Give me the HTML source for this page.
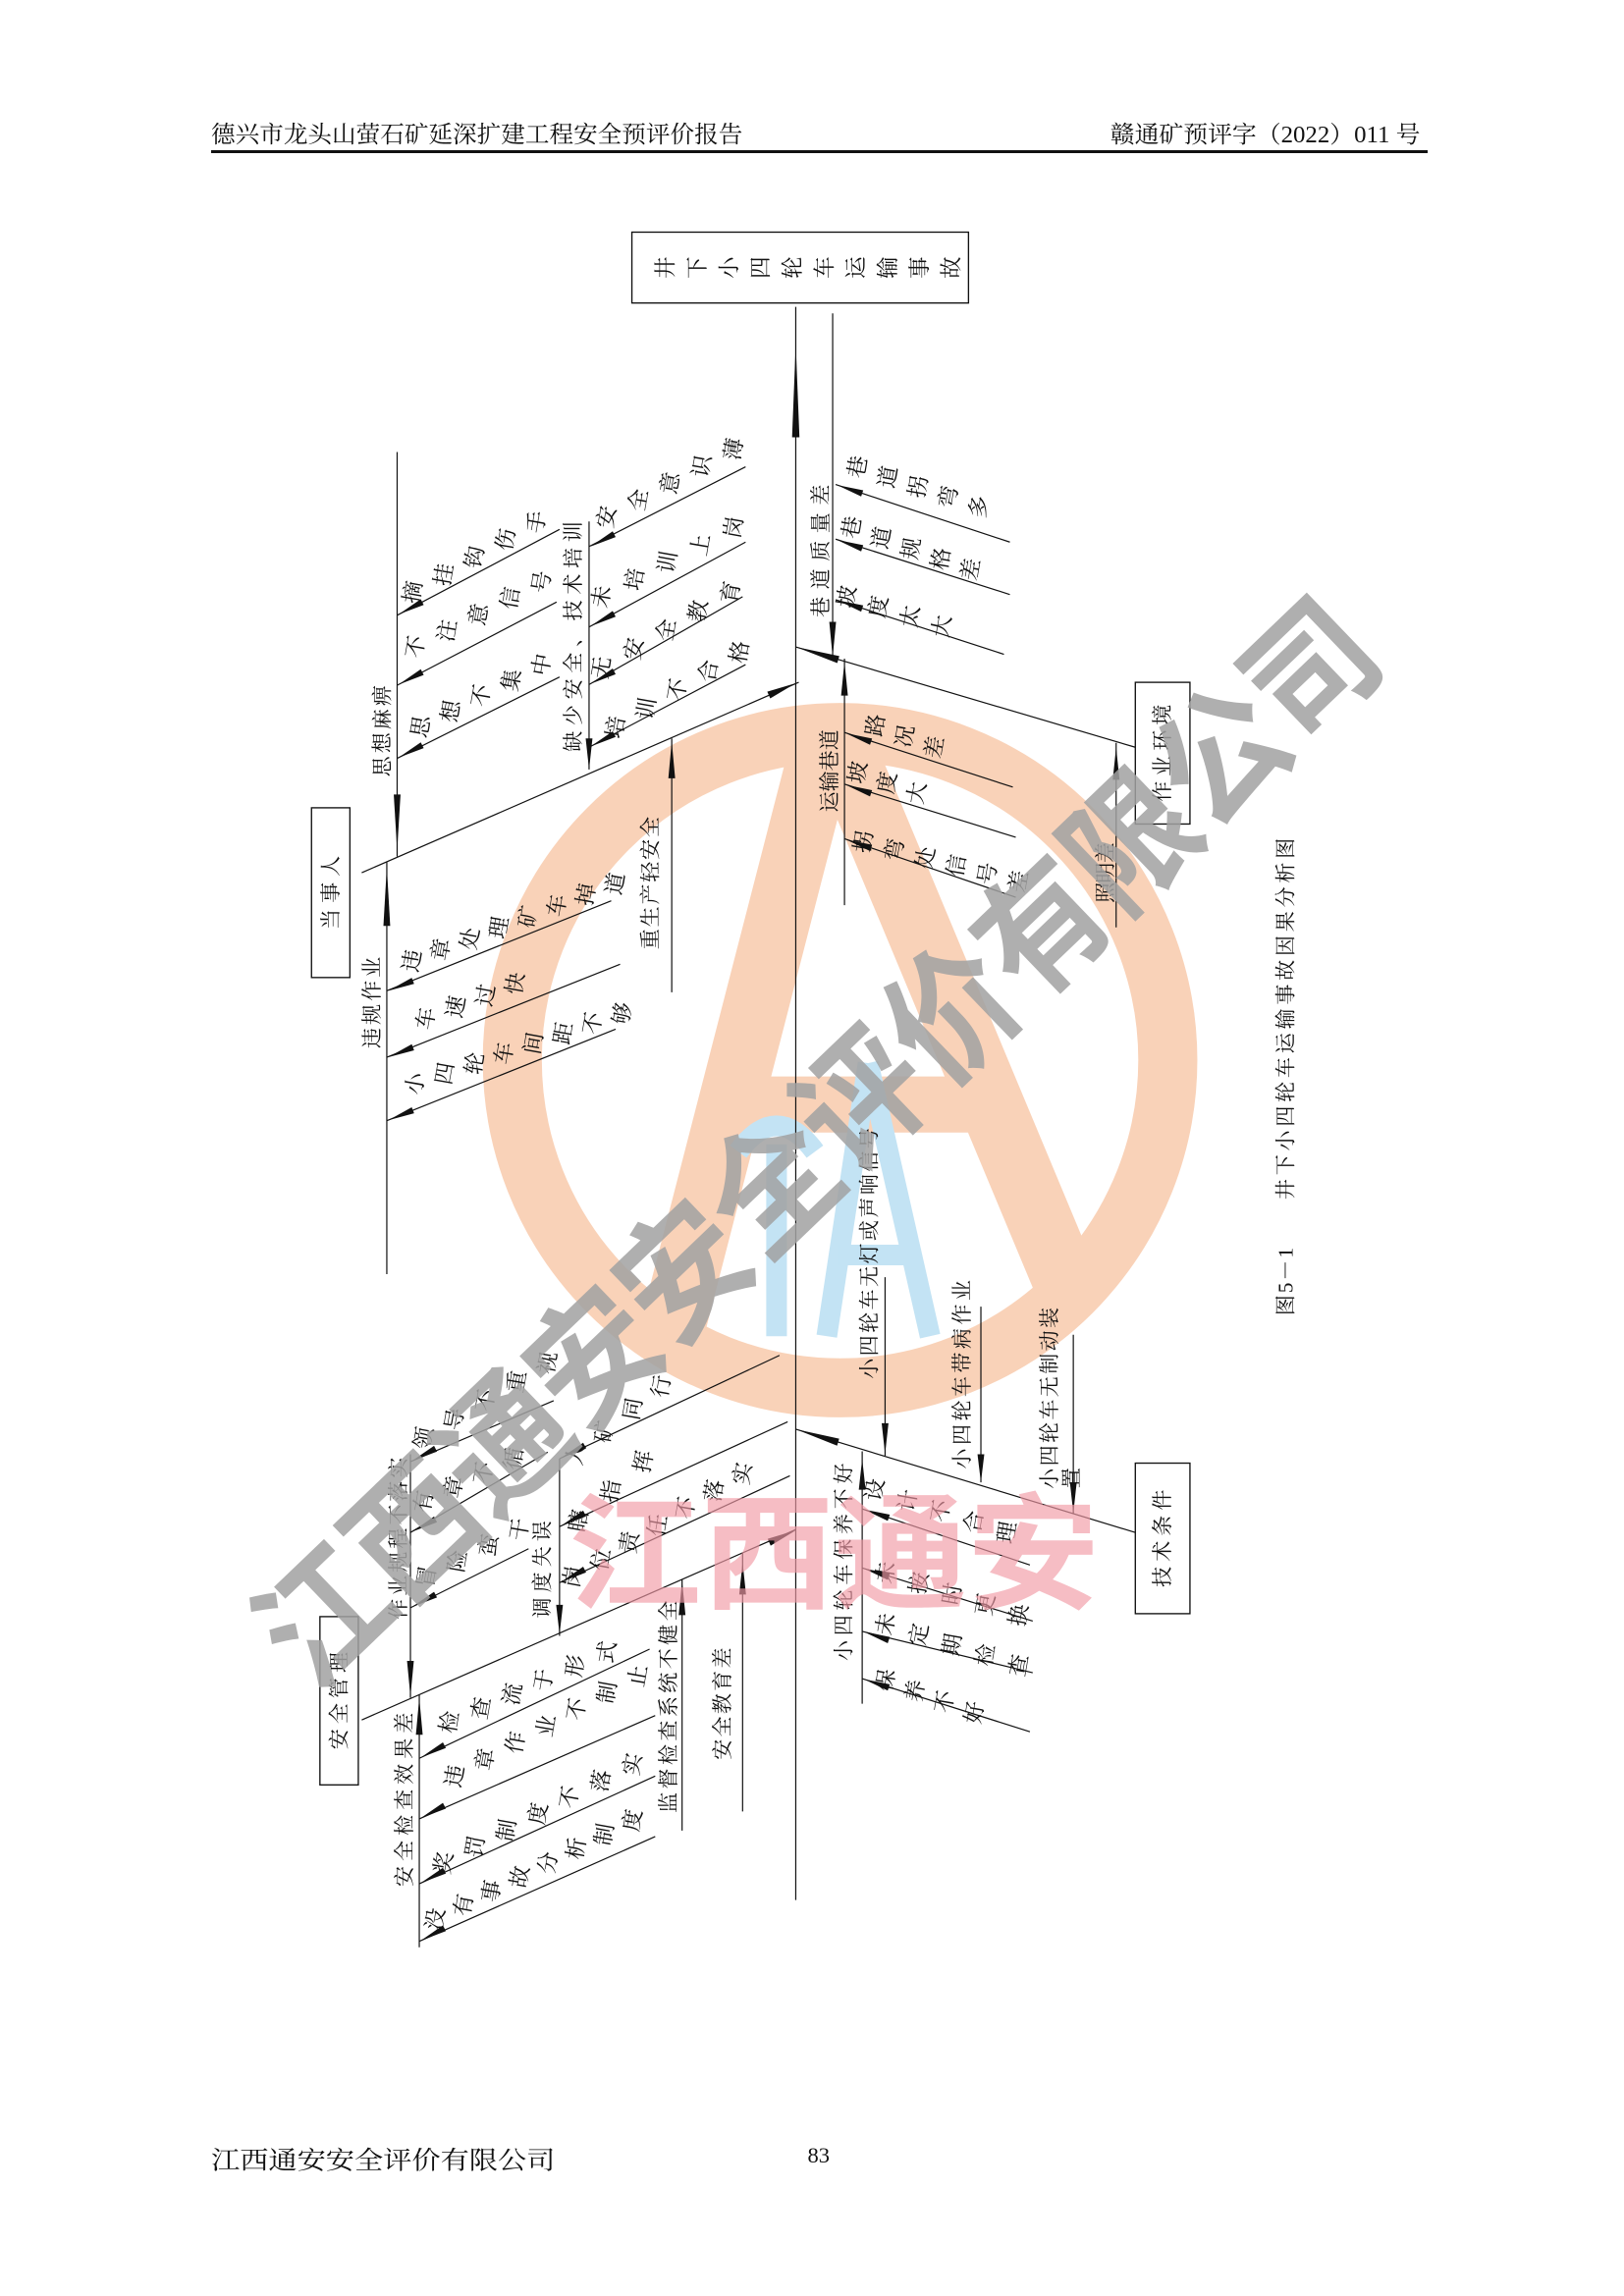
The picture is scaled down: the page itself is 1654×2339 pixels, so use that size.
<!DOCTYPE html>
<html><head><meta charset="utf-8"><style>
html,body{margin:0;padding:0;background:#fff;}
svg{display:block;}
.c text{font-family:"Liberation Serif","Noto Serif CJK SC",serif;font-size:15px;text-anchor:middle;dominant-baseline:central;fill:#111;}
.v{font-family:"Liberation Serif","Noto Serif CJK SC",serif;font-size:14px;text-anchor:middle;dominant-baseline:central;fill:#111;}
.ln line{stroke:#111;stroke-width:0.8;}
.ar polygon{fill:#111;}
</style></head><body>
<svg width="1654" height="2339" viewBox="0 0 1100 1555" xmlns="http://www.w3.org/2000/svg">
<rect width="1100" height="1555" fill="#fff"/>
<text x="143" y="96" font-family="Liberation Serif,Noto Serif CJK SC,serif" font-size="16" textLength="360" lengthAdjust="spacingAndGlyphs" fill="#111">德兴市龙头山萤石矿延深扩建工程安全预评价报告</text>
<text x="752" y="96" font-family="Liberation Serif,Noto Serif CJK SC,serif" font-size="16" textLength="210" lengthAdjust="spacingAndGlyphs" fill="#111">赣通矿预评字（2022）011 号</text>
<line x1="143" y1="102.5" x2="967" y2="102.5" stroke="#111" stroke-width="2"/>
<text x="143" y="1469" font-family="Liberation Serif,Noto Serif CJK SC,serif" font-size="17" textLength="233" lengthAdjust="spacingAndGlyphs" fill="#111">江西通安安全评价有限公司</text>
<text x="547" y="1465" font-family="Liberation Serif,serif" font-size="15" fill="#111">83</text>

<defs><clipPath id="cc"><circle cx="569" cy="718" r="242"/></clipPath></defs>
<g>
<circle cx="569" cy="718" r="222" fill="none" stroke="#f9d2b8" stroke-width="40"/>
<g clip-path="url(#cc)" stroke="#f9d2b8" stroke-width="44" stroke-linecap="butt">
<line x1="560" y1="495" x2="440" y2="960"/>
<line x1="566" y1="495" x2="735" y2="900"/>
<line x1="480" y1="748" x2="660" y2="748" stroke-width="38"/>
</g>
<polygon points="548,478 580,478 566,500 552,500" fill="#f9d2b8"/>
</g>
<g stroke="#c3e3f4" stroke-width="14" fill="none">
<line x1="526" y1="775" x2="526" y2="905"/>
<path d="M500 780 Q526 745 552 780"/>
<line x1="588" y1="720" x2="560" y2="905"/>
<line x1="588" y1="720" x2="630" y2="905"/>
<line x1="568" y1="850" x2="620" y2="850"/>
</g>

<g fill="none" stroke="#111" stroke-width="0.9">
<rect x="428" y="157" width="228" height="48"/>
<rect x="211" y="547" width="26" height="115"/>
<rect x="769" y="462" width="37" height="96"/>
<rect x="769" y="991" width="37" height="102"/>
<rect x="216.7" y="1095" width="26" height="114"/>
</g>
<g class="c" font-size="16">
<text transform="translate(451 181)rotate(-90)">井</text>
<text transform="translate(472.5 181)rotate(-90)">下</text>
<text transform="translate(494 181)rotate(-90)">小</text>
<text transform="translate(515.5 181)rotate(-90)">四</text>
<text transform="translate(537 181)rotate(-90)">轮</text>
<text transform="translate(558.5 181)rotate(-90)">车</text>
<text transform="translate(580 181)rotate(-90)">运</text>
<text transform="translate(601.5 181)rotate(-90)">输</text>
<text transform="translate(623 181)rotate(-90)">事</text>
<text transform="translate(644.5 181)rotate(-90)">故</text>
</g>
<text class="v" transform="translate(224 604.5)rotate(-90)" textLength="50">当事人</text>
<text class="v" transform="translate(787.5 510)rotate(-90)" textLength="66">作业环境</text>
<text class="v" transform="translate(787.5 1042)rotate(-90)" textLength="66">技术条件</text>
<text class="v" transform="translate(229.7 1152)rotate(-90)" textLength="66">安全管理</text>

<text class="v" transform="translate(259 495)rotate(-90)" textLength="62">思想麻痹</text>
<text class="v" transform="translate(388.4 431)rotate(-90)" textLength="156">缺少安全、技术培训</text>
<text class="v" transform="translate(556 373)rotate(-90)" textLength="90">巷道质量差</text>
<text class="v" transform="translate(562 522)rotate(-90)" textLength="56">运输巷道</text>
<text class="v" transform="translate(749 591)rotate(-90)" textLength="41">照明差</text>
<text class="v" transform="translate(252.2 679)rotate(-90)" textLength="62">违规作业</text>
<text class="v" transform="translate(440.6 598)rotate(-90)" textLength="90">重生产轻安全</text>
<text class="v" transform="translate(367.5 1063)rotate(-90)" textLength="66">调度失误</text>
<text class="v" transform="translate(270 1042)rotate(-90)" textLength="110">作业规程不落实</text>
<text class="v" transform="translate(274 1219)rotate(-90)" textLength="118">安全检查效果差</text>
<text class="v" transform="translate(453 1156)rotate(-90)" textLength="144">监督检查系统不健全</text>
<text class="v" transform="translate(489.6 1154)rotate(-90)" textLength="76">安全教育差</text>
<text class="v" transform="translate(571.7 1058)rotate(-90)" textLength="134">小四轮车保养不好</text>
<text class="v" transform="translate(589 849)rotate(-90)" textLength="170">小四轮车无灯或声响信号</text>
<text class="v" transform="translate(651.8 931)rotate(-90)" textLength="128">小四轮车带病作业</text>
<text class="v" transform="translate(711 947)rotate(-90)" textLength="123">小四轮车无制动装</text>
<text class="v" transform="translate(726 1001)rotate(-90)">置</text>
<text class="v" transform="translate(871 868)rotate(-90)" font-size="14" textLength="46">图5－1</text>
<text class="v" transform="translate(871 690)rotate(-90)" font-size="15" textLength="245">井下小四轮车运输事故因果分析图</text>

<g class="ln">
<line x1="539" y1="207.6" x2="539" y2="1287"/>
<line x1="564" y1="212" x2="564" y2="445"/>
<line x1="269" y1="306" x2="269" y2="580"/>
<line x1="399" y1="353" x2="399" y2="521"/>
<line x1="455" y1="500" x2="455" y2="672"/>
<line x1="262" y1="584" x2="262" y2="863"/>
<line x1="572" y1="446" x2="572" y2="613"/>
<line x1="756" y1="503" x2="756" y2="628"/>
<line x1="599.5" y1="865" x2="599.5" y2="986"/>
<line x1="664.4" y1="885" x2="664.4" y2="1004"/>
<line x1="727" y1="904" x2="727" y2="1025"/>
<line x1="584" y1="983" x2="584" y2="1154"/>
<line x1="379" y1="988" x2="379" y2="1108"/>
<line x1="278" y1="985" x2="278" y2="1150"/>
<line x1="284" y1="1148" x2="284" y2="1319"/>
<line x1="462" y1="1070" x2="462" y2="1240"/>
<line x1="503" y1="1052" x2="503" y2="1227"/>
<line x1="245" y1="591" x2="541" y2="462"/>
<line x1="539" y1="438" x2="769" y2="506"/>
<line x1="539" y1="968" x2="769" y2="1038"/>
<line x1="245" y1="1165" x2="539" y2="1036"/>
<line x1="269" y1="416.6" x2="379" y2="358.4"/>
<line x1="269" y1="464" x2="377" y2="407.6"/>
<line x1="269" y1="513.5" x2="379" y2="458.4"/>
<line x1="399" y1="370" x2="505" y2="316"/>
<line x1="399" y1="424.5" x2="505" y2="367"/>
<line x1="399" y1="463.5" x2="503" y2="404"/>
<line x1="399" y1="506" x2="505" y2="450"/>
<line x1="262" y1="671" x2="414" y2="610"/>
<line x1="262" y1="716" x2="420" y2="653"/>
<line x1="262" y1="759" x2="417" y2="697"/>
<line x1="566" y1="328" x2="684" y2="367"/>
<line x1="566" y1="365" x2="684" y2="402.5"/>
<line x1="566" y1="406" x2="680" y2="443"/>
<line x1="572" y1="496" x2="686" y2="533"/>
<line x1="572" y1="531" x2="688" y2="567"/>
<line x1="572" y1="568" x2="688" y2="607.6"/>
<line x1="584" y1="1022" x2="697.6" y2="1060"/>
<line x1="584" y1="1062" x2="699.5" y2="1098"/>
<line x1="584" y1="1105" x2="699.5" y2="1133"/>
<line x1="584" y1="1137" x2="697.6" y2="1173"/>
<line x1="278" y1="990" x2="375" y2="948.7"/>
<line x1="278" y1="1038" x2="371" y2="983.6"/>
<line x1="278" y1="1089" x2="358" y2="1049"/>
<line x1="379" y1="988" x2="528" y2="918"/>
<line x1="379" y1="1034" x2="533.5" y2="963"/>
<line x1="379" y1="1072" x2="535" y2="999.6"/>
<line x1="284" y1="1191" x2="440" y2="1117"/>
<line x1="284" y1="1232" x2="443.8" y2="1162"/>
<line x1="284" y1="1276" x2="443.8" y2="1203"/>
<line x1="284" y1="1315" x2="443.8" y2="1244"/>
</g>

<g class="ar">
<polygon points="539,233 541.5,296 536.5,296"/>
<polygon points="564,445 566.3,421 561.7,421"/>
<polygon points="269,576 271.3,538 266.7,538"/>
<polygon points="399,521 401.3,500 396.7,500"/>
<polygon points="455,502 457.3,527 452.7,527"/>
<polygon points="262,587 264.3,627 259.7,627"/>
<polygon points="572,448 574.3,471 569.7,471"/>
<polygon points="756,506 758.3,528 753.7,528"/>
<polygon points="599.5,985 601.8,964 597.2,964"/>
<polygon points="664.4,1004 666.7,985 662.1,985"/>
<polygon points="727,1025 729.3,1004 724.7,1004"/>
<polygon points="584,988 586.3,1009 581.7,1009"/>
<polygon points="379,1107 381.3,1087 376.7,1087"/>
<polygon points="278,1149 280.3,1125 275.7,1125"/>
<polygon points="284,1150 286.3,1175 281.7,1175"/>
<polygon points="462,1071 464.3,1094 459.7,1094"/>
<polygon points="503,1058 505.3,1080 500.7,1080"/>
<polygon points="539,462.6 521.7,472.9 519.7,468.3"/>
<polygon points="539,438 567.1,449 568.5,444.2"/>
<polygon points="539,968 567,979.2 568.4,974.4"/>
<polygon points="539,1036.5 522,1046.9 520,1042.3"/>
<polygon points="270,416 287,409.55 285,405.65"/>
<polygon points="270,463.5 287,457.05 285,453.15"/>
<polygon points="270,513 287,506.55 285,502.65"/>
<polygon points="400,370 417,363.55 415,359.65"/>
<polygon points="400,424 417,417.55 415,413.65"/>
<polygon points="400,463 417,456.55 415,452.65"/>
<polygon points="400,505.5 417,499.05 415,495.15"/>
<polygon points="263,671 280.5,666.3 278.9,662.2"/>
<polygon points="263,716 280.5,711.3 278.9,707.2"/>
<polygon points="263,758.7 280.5,754 278.9,749.9"/>
<polygon points="567,328.3 583.3,336.1 584.7,331.9"/>
<polygon points="567,365.5 583.3,373.3 584.7,369.1"/>
<polygon points="567,406.3 583.3,414.1 584.7,409.9"/>
<polygon points="573,496.5 589.3,504.3 590.7,500.1"/>
<polygon points="573,531.5 589.3,539.3 590.7,535.1"/>
<polygon points="573,568.5 589.3,576.3 590.7,572.1"/>
<polygon points="585,1022.3 601.3,1030.1 602.7,1025.9"/>
<polygon points="585,1062.3 601.3,1070.1 602.7,1065.9"/>
<polygon points="585,1105.2 601.3,1113 602.7,1108.8"/>
<polygon points="585,1137.3 601.3,1145.1 602.7,1140.9"/>
<polygon points="279,989.6 296,983.15 294,979.25"/>
<polygon points="279,1037.5 296,1031.05 294,1027.15"/>
<polygon points="279,1088.5 296,1082.05 294,1078.15"/>
<polygon points="380,987.5 397,981.05 395,977.15"/>
<polygon points="380,1033.5 397,1027.05 395,1023.15"/>
<polygon points="380,1071.5 397,1065.05 395,1061.15"/>
<polygon points="285,1190.5 302,1184.05 300,1180.15"/>
<polygon points="285,1231.5 302,1225.05 300,1221.15"/>
<polygon points="285,1275.5 302,1269.05 300,1265.15"/>
<polygon points="285,1314.5 302,1308.05 300,1304.15"/>
</g>

<g class="c">
<text transform="translate(279.7 401)rotate(-80)">摘</text><text transform="translate(300.7 389.1)rotate(-80)">挂</text><text transform="translate(321.6 377.2)rotate(-80)">钩</text><text transform="translate(342.6 365.3)rotate(-80)">伤</text><text transform="translate(363.6 353.4)rotate(-80)">手</text>
<text transform="translate(281.6 438)rotate(-80)">不</text><text transform="translate(303 427)rotate(-80)">注</text><text transform="translate(324.3 416)rotate(-80)">意</text><text transform="translate(345.7 405)rotate(-80)">信</text><text transform="translate(367 394)rotate(-80)">号</text>
<text transform="translate(285 492)rotate(-80)">思</text><text transform="translate(305.5 481.5)rotate(-80)">想</text><text transform="translate(326 471)rotate(-80)">不</text><text transform="translate(346.5 460.5)rotate(-80)">集</text><text transform="translate(367 450)rotate(-80)">中</text>
<text transform="translate(411 350)rotate(-80)">安</text><text transform="translate(432.5 338.5)rotate(-80)">全</text><text transform="translate(454 327)rotate(-80)">意</text><text transform="translate(475.5 315.5)rotate(-80)">识</text><text transform="translate(497 304)rotate(-80)">薄</text>
<text transform="translate(407.5 404)rotate(-80)">未</text><text transform="translate(429.9 392.3)rotate(-80)">培</text><text transform="translate(452.3 380.5)rotate(-80)">训</text><text transform="translate(474.6 368.8)rotate(-80)">上</text><text transform="translate(497 357)rotate(-80)">岗</text>
<text transform="translate(407.5 452)rotate(-80)">无</text><text transform="translate(429.4 439.3)rotate(-80)">安</text><text transform="translate(451.3 426.5)rotate(-80)">全</text><text transform="translate(473.1 413.8)rotate(-80)">教</text><text transform="translate(495 401)rotate(-80)">育</text>
<text transform="translate(417 492.5)rotate(-80)">培</text><text transform="translate(438 479.8)rotate(-80)">训</text><text transform="translate(459 467)rotate(-80)">不</text><text transform="translate(480 454.3)rotate(-80)">合</text><text transform="translate(501 441.5)rotate(-80)">格</text>
<text transform="translate(581 316)rotate(-80)">巷</text><text transform="translate(601.5 322.8)rotate(-80)">道</text><text transform="translate(622 329.5)rotate(-80)">拐</text><text transform="translate(642.5 336.3)rotate(-80)">弯</text><text transform="translate(663 343)rotate(-80)">多</text>
<text transform="translate(577 357)rotate(-80)">巷</text><text transform="translate(597.1 364.1)rotate(-80)">道</text><text transform="translate(617.3 371.3)rotate(-80)">规</text><text transform="translate(637.4 378.4)rotate(-80)">格</text><text transform="translate(657.5 385.5)rotate(-80)">差</text>
<text transform="translate(573.6 404)rotate(-80)">坡</text><text transform="translate(595.1 410.7)rotate(-80)">度</text><text transform="translate(616.6 417.3)rotate(-80)">太</text><text transform="translate(638 424)rotate(-80)">大</text>
<text transform="translate(593 491)rotate(-80)">路</text><text transform="translate(613 498.5)rotate(-80)">况</text><text transform="translate(633 506)rotate(-80)">差</text>
<text transform="translate(581 523)rotate(-80)">坡</text><text transform="translate(601 530)rotate(-80)">度</text><text transform="translate(621 537)rotate(-80)">大</text>
<text transform="translate(585 570)rotate(-80)">拐</text><text transform="translate(606 575.4)rotate(-80)">弯</text><text transform="translate(627 580.8)rotate(-80)">处</text><text transform="translate(648 586.2)rotate(-80)">信</text><text transform="translate(669 591.6)rotate(-80)">号</text><text transform="translate(690 597)rotate(-80)">差</text>
<text transform="translate(279 650.6)rotate(-80)">违</text><text transform="translate(298.7 643.1)rotate(-80)">章</text><text transform="translate(318.4 635.7)rotate(-80)">处</text><text transform="translate(338.1 628.2)rotate(-80)">理</text><text transform="translate(357.7 620.7)rotate(-80)">矿</text><text transform="translate(377.4 613.3)rotate(-80)">车</text><text transform="translate(397.1 605.8)rotate(-80)">掉</text><text transform="translate(416.8 598.4)rotate(-80)">道</text>
<text transform="translate(288.6 689.8)rotate(-80)">车</text><text transform="translate(308.8 681.9)rotate(-80)">速</text><text transform="translate(329 674)rotate(-80)">过</text><text transform="translate(349.1 666)rotate(-80)">快</text>
<text transform="translate(281.4 733.8)rotate(-80)">小</text><text transform="translate(301.4 727)rotate(-80)">四</text><text transform="translate(321.5 720.2)rotate(-80)">轮</text><text transform="translate(341.5 713.4)rotate(-80)">车</text><text transform="translate(361.5 706.6)rotate(-80)">间</text><text transform="translate(381.5 699.8)rotate(-80)">距</text><text transform="translate(401.6 693)rotate(-80)">不</text><text transform="translate(421.6 686.3)rotate(-80)">够</text>
<text transform="translate(287 974)rotate(-80)">领</text><text transform="translate(308 961.3)rotate(-80)">导</text><text transform="translate(329 948.5)rotate(-80)">不</text><text transform="translate(350 935.8)rotate(-80)">重</text><text transform="translate(371 923)rotate(-80)">视</text>
<text transform="translate(287 1017)rotate(-80)">有</text><text transform="translate(307.3 1007.3)rotate(-80)">章</text><text transform="translate(327.7 997.7)rotate(-80)">不</text><text transform="translate(348 988)rotate(-80)">循</text>
<text transform="translate(289 1068)rotate(-80)">冒</text><text transform="translate(310 1057.3)rotate(-80)">险</text><text transform="translate(331 1046.7)rotate(-80)">蛮</text><text transform="translate(352 1036)rotate(-80)">干</text>
<text transform="translate(390 985)rotate(-80)">人</text><text transform="translate(409.3 969.7)rotate(-80)">矿</text><text transform="translate(428.7 954.3)rotate(-80)">同</text><text transform="translate(448 939)rotate(-80)">行</text>
<text transform="translate(392 1030)rotate(-80)">瞎</text><text transform="translate(414 1010)rotate(-80)">指</text><text transform="translate(436 990)rotate(-80)">挥</text>
<text transform="translate(388 1068)rotate(-80)">岗</text><text transform="translate(407.2 1056.3)rotate(-80)">位</text><text transform="translate(426.3 1044.7)rotate(-80)">责</text><text transform="translate(445.5 1033)rotate(-80)">任</text><text transform="translate(464.7 1021.3)rotate(-80)">不</text><text transform="translate(483.8 1009.7)rotate(-80)">落</text><text transform="translate(503 998)rotate(-80)">实</text>
<text transform="translate(304.5 1166.5)rotate(-80)">检</text><text transform="translate(325.8 1157)rotate(-80)">查</text><text transform="translate(347.1 1147.5)rotate(-80)">流</text><text transform="translate(368.4 1138)rotate(-80)">于</text><text transform="translate(389.7 1128.5)rotate(-80)">形</text><text transform="translate(411 1119)rotate(-80)">式</text>
<text transform="translate(308 1203)rotate(-80)">违</text><text transform="translate(328.7 1191.7)rotate(-80)">章</text><text transform="translate(349.3 1180.3)rotate(-80)">作</text><text transform="translate(370 1169)rotate(-80)">业</text><text transform="translate(390.7 1157.7)rotate(-80)">不</text><text transform="translate(411.3 1146.3)rotate(-80)">制</text><text transform="translate(432 1135)rotate(-80)">止</text>
<text transform="translate(300.6 1262)rotate(-80)">奖</text><text transform="translate(321.9 1250.8)rotate(-80)">罚</text><text transform="translate(343.2 1239.7)rotate(-80)">制</text><text transform="translate(364.6 1228.5)rotate(-80)">度</text><text transform="translate(385.9 1217.3)rotate(-80)">不</text><text transform="translate(407.2 1206.2)rotate(-80)">落</text><text transform="translate(428.5 1195)rotate(-80)">实</text>
<text transform="translate(295 1300)rotate(-80)">没</text><text transform="translate(314.1 1290.4)rotate(-80)">有</text><text transform="translate(333.1 1280.9)rotate(-80)">事</text><text transform="translate(352.2 1271.3)rotate(-80)">故</text><text transform="translate(371.3 1261.7)rotate(-80)">分</text><text transform="translate(390.4 1252.1)rotate(-80)">析</text><text transform="translate(409.4 1242.6)rotate(-80)">制</text><text transform="translate(428.5 1233)rotate(-80)">度</text>
<text transform="translate(592.6 1009)rotate(-80)">设</text><text transform="translate(615 1016.3)rotate(-80)">计</text><text transform="translate(637.3 1023.5)rotate(-80)">不</text><text transform="translate(659.7 1030.8)rotate(-80)">合</text><text transform="translate(682 1038)rotate(-80)">理</text>
<text transform="translate(600 1065)rotate(-80)">未</text><text transform="translate(622.5 1072.3)rotate(-80)">按</text><text transform="translate(645 1079.5)rotate(-80)">时</text><text transform="translate(667.5 1086.8)rotate(-80)">更</text><text transform="translate(690 1094)rotate(-80)">换</text>
<text transform="translate(600 1100)rotate(-80)">未</text><text transform="translate(622.5 1107)rotate(-80)">定</text><text transform="translate(645 1114)rotate(-80)">期</text><text transform="translate(667.5 1121)rotate(-80)">检</text><text transform="translate(690 1128)rotate(-80)">查</text>
<text transform="translate(600 1138)rotate(-80)">保</text><text transform="translate(620 1145.3)rotate(-80)">养</text><text transform="translate(640 1152.7)rotate(-80)">不</text><text transform="translate(660 1160)rotate(-80)">好</text>
</g>

<text x="385" y="1083" font-family="Liberation Sans,Noto Sans CJK SC,sans-serif" font-weight="bold" font-size="86" textLength="360" lengthAdjust="spacingAndGlyphs" fill="#f29aa6" opacity="0.65">江西通安</text>
<text transform="translate(555 775)rotate(-43.8)" text-anchor="middle" dominant-baseline="central" font-family="Liberation Sans,Noto Sans CJK SC,sans-serif" font-weight="bold" font-size="92" textLength="1010" lengthAdjust="spacingAndGlyphs" fill="#a2a2a2" opacity="0.85">江西通安安全评价有限公司</text>
</svg>
</body></html>
